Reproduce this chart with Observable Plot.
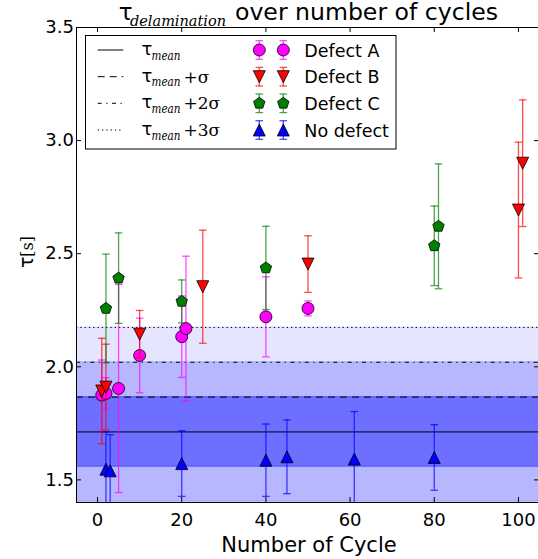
<!DOCTYPE html>
<html><head><meta charset="utf-8">
<script src="https://cdn.jsdelivr.net/npm/d3@7"></script>
<script src="https://cdn.jsdelivr.net/npm/@observablehq/plot@0.6"></script>
<style>body{margin:0;background:#fff} svg{display:block}</style>
</head><body><div id="chart"></div>
<script>
// ---------- data ----------
const seriesNames = ["Defect A", "Defect B", "Defect C", "No defect"];

const cycleA = [1, 2, 5, 10, 20, 21, 40, 50];
const tauA   = [1.875, 1.882, 1.904, 2.05, 2.133, 2.169, 2.221, 2.258];
const errA   = [0.155, 0.07, 0.46, 0.165, 0.18, 0.32, 0.177, 0.033];

const cycleB = [1, 2, 10, 25, 50, 100, 101];
const tauB   = [1.893, 1.91, 2.144, 2.354, 2.454, 2.693, 2.9];
const errB   = [0.233, 0.19, 0.105, 0.25, 0.125, 0.30, 0.28];

const cycleC = [2, 5, 20, 40, 80, 81];
const tauC   = [2.258, 2.392, 2.289, 2.437, 2.535, 2.621];
const errC   = [0.24, 0.2, 0.095, 0.184, 0.176, 0.276];

const cycleN = [2, 3, 20, 40, 45, 61, 80];
const tauN   = [1.547, 1.54, 1.572, 1.587, 1.602, 1.592, 1.599];
const errN   = [0.165, 0.16, 0.145, 0.16, 0.163, 0.21, 0.145];

const tauMean = 1.712;
const tauSigma = 0.154;
const sigmaLevels = [0, 1, 2, 3];      // tau_mean + k*sigma lines
const bandLevels = [3, 2, 1];          // +/- k*sigma shaded bands
const lineLabels = ["", "+σ", "+2σ", "+3σ"];

const xTicks = [0, 20, 40, 60, 80, 100];
const yTicks = [1.5, 2.0, 2.5, 3.0, 3.5];

// ---------- styles ----------
const colors = ["#ff00ff", "#ff0000", "#008000", "#0000ff"];
const bandAlpha = {3: 0.1, 2: 0.2, 1: 0.4};
const dashStyles = ["none", "7,5", "4,4.5,1.3,4.5", "1.3,3"];

const sym = (fn) => ({draw(ctx, size) { fn(ctx, Math.sqrt(size / Math.PI)); }});
const circleSym = sym((c, r) => { c.moveTo(r, 0); c.arc(0, 0, r, 0, 2 * Math.PI); });
const triDown = sym((c, r) => { c.moveTo(0, r); c.lineTo(r, -r); c.lineTo(-r, -r); c.closePath(); });
const triUp = sym((c, r) => { c.moveTo(0, -r); c.lineTo(r, r); c.lineTo(-r, r); c.closePath(); });
const pentSym = sym((c, r) => {
  for (let k = 0; k < 5; k++) {
    const a = -Math.PI / 2 + k * 2 * Math.PI / 5;
    const x = r * Math.cos(a), y = r * Math.sin(a);
    k ? c.lineTo(x, y) : c.moveTo(x, y);
  }
  c.closePath();
});
const capSym = sym((c, r) => { c.moveTo(-r, 0); c.lineTo(r, 0); });
const symbols = [circleSym, triDown, pentSym, triUp];

const rows = (c, t, e) => c.map((x, i) => ({c: x, t: t[i], e: e[i]}));
const seriesData = [rows(cycleA, tauA, errA), rows(cycleB, tauB, errB), rows(cycleC, tauC, errC), rows(cycleN, tauN, errN)];

const W = 538, H = 559;
const mL = 76, mR = -1, mT = 27, mB = 57;
const frameW = W - mL - mR, frameH = H - mT - mB;

const bandMarks = bandLevels.map(k => Plot.rect([k], {
  y1: d => tauMean - d * tauSigma, y2: d => tauMean + d * tauSigma,
  fill: "#0000ff", fillOpacity: bandAlpha[k], stroke: "#0000ff", strokeOpacity: bandAlpha[k], clip: true
}));
const lineMarks = sigmaLevels.map(k => Plot.ruleY([k], {
  y: d => tauMean + d * tauSigma, stroke: "black", strokeWidth: 1, strokeDasharray: dashStyles[k]
}));
const seriesMarks = seriesData.flatMap((data, i) => [
  Plot.ruleX(data, {x: "c", y1: d => d.t - d.e, y2: d => d.t + d.e, stroke: colors[i], strokeOpacity: 0.7, strokeWidth: 1.3, clip: true}),
  Plot.dot(data, {x: "c", y: d => d.t - d.e, symbol: capSym, r: 3.8, fill: "none", stroke: colors[i], strokeOpacity: 0.7, strokeWidth: 1.3, clip: true}),
  Plot.dot(data, {x: "c", y: d => d.t + d.e, symbol: capSym, r: 3.8, fill: "none", stroke: colors[i], strokeOpacity: 0.7, strokeWidth: 1.3, clip: true}),
  Plot.dot(data, {x: "c", y: "t", symbol: symbols[i], r: 6, fill: colors[i], stroke: "black", strokeWidth: 0.8})
]);

const plot = Plot.plot({
  width: W, height: H,
  marginLeft: mL, marginRight: mR, marginTop: mT, marginBottom: mB,
  style: {fontFamily: "DejaVu Sans", fontSize: "18px", background: "white", color: "black", overflow: "visible"},
  x: {domain: [-5, 105], ticks: xTicks},
  y: {domain: [1.4, 3.5], ticks: yTicks},
  marks: [
    ...bandMarks,
    ...lineMarks,
    ...seriesMarks,
    Plot.frame({stroke: "black", strokeWidth: 1}),
    Plot.tickX(xTicks, {x: d => d, insetTop: frameH - 5, stroke: "black"}),
    Plot.tickX(xTicks, {x: d => d, insetBottom: frameH - 5, stroke: "black"}),
    Plot.tickY(yTicks, {y: d => d, insetRight: frameW - 5, stroke: "black"}),
    Plot.tickY(yTicks, {y: d => d, insetLeft: frameW - 5, stroke: "black"}),
    Plot.axisX({ticks: xTicks, tickSize: 0, tickPadding: 10.5, label: null, tickFormat: d => String(d)}),
    Plot.axisY({ticks: yTicks, tickSize: 0, tickPadding: 2.5, label: null, tickFormat: d3.format(".1f")})
  ]
});
document.getElementById("chart").appendChild(plot);

// ---------- text: title, axis labels ----------
const svg = d3.select(plot);
const t = svg.append("g").attr("fill", "black").attr("text-anchor", "start");
t.append("text").attr("x", 118.7).attr("y", 20).attr("font-family", "DejaVu Sans").attr("font-size", 23).text("τ");
t.append("text").attr("x", 130).attr("y", 26).attr("font-family", "DejaVu Serif").attr("font-style", "italic")
  .attr("font-size", 15).attr("textLength", 96).attr("lengthAdjust", "spacingAndGlyphs").text("delamination");
t.append("text").attr("x", 235).attr("y", 20).attr("font-family", "DejaVu Sans").attr("font-size", 23)
  .attr("textLength", 263).attr("lengthAdjust", "spacingAndGlyphs").text("over number of cycles");
t.append("text").attr("x", 309).attr("y", 552).attr("text-anchor", "middle").attr("font-family", "DejaVu Sans").attr("font-size", 21).text("Number of Cycle");
const yl = t.append("text").attr("transform", "translate(33,252) rotate(-90)").attr("text-anchor", "middle");
yl.append("tspan").attr("font-family", "DejaVu Sans").attr("font-size", 19).text("τ");
yl.append("tspan").attr("font-family", "DejaVu Serif").attr("font-size", 16).text("[s]");

// ---------- legend ----------
const lg = svg.append("g").attr("text-anchor", "start").attr("fill", "black");
lg.append("rect").attr("x", 85.5).attr("y", 35.5).attr("width", 310.5).attr("height", 113.5).attr("fill", "white").attr("stroke", "black");
const rowY = [50, 76.7, 103.3, 130];
sigmaLevels.forEach((k, i) => {
  const y = rowY[i];
  lg.append("line").attr("x1", 97.7).attr("x2", 123.3).attr("y1", y).attr("y2", y)
    .attr("stroke", "black").attr("stroke-dasharray", dashStyles[k]);
  lg.append("text").attr("x", 141.5).attr("y", y + 5).attr("font-family", "DejaVu Sans").attr("font-size", 18).text("τ");
  lg.append("text").attr("x", 151.5).attr("y", y + 9.5).attr("font-family", "DejaVu Serif").attr("font-style", "italic")
    .attr("font-size", 12).attr("textLength", 29).attr("lengthAdjust", "spacingAndGlyphs").text("mean");
  if (lineLabels[k]) lg.append("text").attr("x", 183.5).attr("y", y + 6).attr("font-family", "DejaVu Serif").attr("font-size", 17).text(lineLabels[k]);
});
seriesNames.forEach((name, i) => {
  const y = rowY[i];
  [259.3, 283.3].forEach(x => {
    lg.append("line").attr("x1", x).attr("x2", x).attr("y1", y - 9.3).attr("y2", y + 9.3)
      .attr("stroke", colors[i]).attr("stroke-opacity", 0.7).attr("stroke-width", 1.3);
    [y - 9.3, y + 9.3].forEach(cy => lg.append("line").attr("x1", x - 3.8).attr("x2", x + 3.8).attr("y1", cy).attr("y2", cy)
      .attr("stroke", colors[i]).attr("stroke-opacity", 0.7).attr("stroke-width", 1.3));
    lg.append("path").attr("transform", `translate(${x},${y})`)
      .attr("d", d3.symbol().type(symbols[i]).size(Math.PI * 36)())
      .attr("fill", colors[i]).attr("stroke", "black").attr("stroke-width", 0.8);
  });
  lg.append("text").attr("x", 304.3).attr("y", y + 6.5).attr("font-family", "DejaVu Sans").attr("font-size", 17.5).text(name);
});
</script>
</body></html>
